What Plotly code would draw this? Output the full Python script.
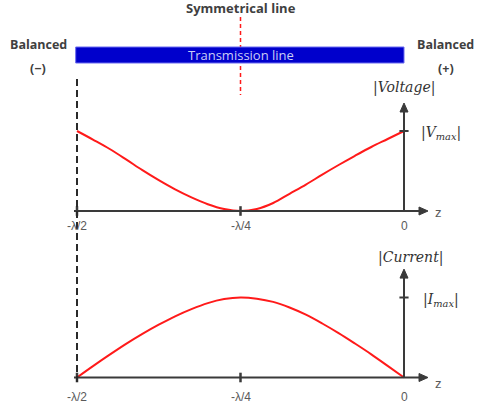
import plotly.graph_objects as go

# ---- data (z in units of wavelength, magnitudes normalised to max) ----
z_positions = [-0.5, -0.475, -0.45, -0.425, -0.4, -0.375, -0.35, -0.325, -0.3, -0.275,
               -0.25, -0.225, -0.2, -0.175, -0.15, -0.125, -0.1, -0.075, -0.05, -0.025, 0.0]
voltage_mag = [1.00, 0.89, 0.775, 0.645, 0.51, 0.385, 0.27, 0.17, 0.085, 0.025,
               0.00, 0.025, 0.10, 0.215, 0.33, 0.455, 0.575, 0.69, 0.80, 0.90, 1.00]
current_mag = [0.00, 0.145, 0.285, 0.42, 0.545, 0.66, 0.765, 0.855, 0.93, 0.98,
               1.00, 0.985, 0.945, 0.875, 0.785, 0.675, 0.555, 0.425, 0.29, 0.145, 0.00]
tick_positions = [-0.5, -0.25, 0.0]
tick_labels = ["-λ/2", "-λ/4", "0"]

W, H = 479, 410
AX = "#3a3a3a"
RED = "#ff1a1a"

# axis scaling so that -λ/2 -> px 77 and 0 -> px 404; 80 px per unit amplitude
ppl = 654.0
ppu = 80.0
x0 = -404 / ppl
x1 = x0 + W / ppl
span = H / ppu
DX = 1 / ppl   # one pixel in x data units
DY = 1 / ppu   # one pixel in y data units


def px(x):
    return x / W


def py(y):
    return 1 - y / H


def label(x, y, text, font, xref="paper"):
    return dict(x=x, y=y, xref=xref, yref="paper", text=text, showarrow=False, font=font,
                xanchor="center", yanchor="middle")


fig = go.Figure()
fig.add_trace(go.Scatter(x=z_positions, y=voltage_mag, mode="lines", line=dict(color=RED, width=2, shape="spline"),
                         xaxis="x", yaxis="y", hoverinfo="skip", showlegend=False))
fig.add_trace(go.Scatter(x=z_positions, y=current_mag, mode="lines", line=dict(color=RED, width=2, shape="spline"),
                         xaxis="x", yaxis="y2", hoverinfo="skip", showlegend=False))

shapes = []
annotations = []

# red symmetry line (drawn first so the bar covers it)
shapes.append(dict(type="line", xref="x", yref="paper", x0=-0.25, x1=-0.25, y0=py(17), y1=py(95),
                   line=dict(color=RED, width=1.5, dash="4px,3px")))
# transmission line bar
shapes.append(dict(type="rect", xref="x", yref="paper", x0=-0.502, x1=0.0, y0=py(63), y1=py(47),
                   fillcolor="#0000cc", line=dict(color="#6a6af0", width=1)))

# axes for both panels
for yref, top_val in (("y", 1.35), ("y2", 1.355)):
    tip_x = 428 * DX + x0
    # horizontal axis line and arrowhead
    shapes.append(dict(type="line", xref="x", yref=yref, x0=-0.5 - 3 * DX, x1=tip_x - 6 * DX, y0=0, y1=0,
                       line=dict(color=AX, width=2)))
    shapes.append(dict(type="path", xref="x", yref=yref,
                       path=f"M {tip_x},0 L {tip_x - 9 * DX},{4 * DY} L {tip_x - 9 * DX},{-4 * DY} Z",
                       fillcolor=AX, line=dict(color=AX, width=1)))
    # vertical axis line and arrowhead
    shapes.append(dict(type="line", xref="x", yref=yref, x0=0, x1=0, y0=0, y1=top_val - 6 * DY,
                       line=dict(color=AX, width=2)))
    shapes.append(dict(type="path", xref="x", yref=yref,
                       path=f"M 0,{top_val} L {-4 * DX},{top_val - 9 * DY} L {4 * DX},{top_val - 9 * DY} Z",
                       fillcolor=AX, line=dict(color=AX, width=1)))
    for tp in tick_positions[:2]:
        shapes.append(dict(type="line", xref="x", yref=yref, x0=tp, x1=tp, y0=-0.06, y1=0.06,
                           line=dict(color=AX, width=2.5)))
    shapes.append(dict(type="line", xref="x", yref=yref, x0=-0.007, x1=0.007, y0=1.0, y1=1.0,
                       line=dict(color=AX, width=2)))

# tick labels
tick_font = dict(family="Liberation Sans", size=12, color="#5a5a5a")
for row_y in (226, 397):
    for tp, tl in zip(tick_positions, tick_labels):
        annotations.append(label(tp, py(row_y), tl, tick_font, xref="x"))
    annotations.append(label(px(438), py(row_y - 14), "z", dict(family="Liberation Sans", size=13, color="#5a5a5a")))

# black dashed line at -λ/2
shapes.append(dict(type="line", xref="x", yref="paper", x0=-0.5, x1=-0.5, y0=py(79), y1=py(382),
                   line=dict(color="#2a2a2a", width=2, dash="7px,4px")))

annotations.append(label(-0.25, py(55), "Transmission line",
                         dict(family="Open Sans", size=13, color="#c9cdf5"), xref="x"))

# header texts
bold = dict(family="Open Sans", size=12.5, color="#404040")
annotations.append(label(-0.25, py(8), "<b>Symmetrical line</b>",
                         dict(family="Open Sans", size=13, color="#404040"), xref="x"))
annotations.append(label(px(38), py(45), "<b>Balanced</b>", bold))
annotations.append(label(px(38), py(68), "<b>(−)</b>", bold))
annotations.append(label(px(445), py(45), "<b>Balanced</b>", bold))
annotations.append(label(px(446), py(68), "<b>(+)</b>", bold))

# math labels
serif = dict(family="DejaVu Serif", size=14, color="#333333")
annotations.append(label(px(404), py(88), "<i>|Voltage|</i>", serif))
annotations.append(label(px(410), py(257), "<i>|Current|</i>", serif))
annotations.append(label(px(441), py(133), "<i>|V<sub>max</sub>|</i>", serif))
annotations.append(label(px(441), py(300), "<i>|I<sub>max</sub>|</i>", serif))

fig.update_layout(
    width=W, height=H, margin=dict(l=0, r=0, t=0, b=0),
    paper_bgcolor="white", plot_bgcolor="white",
    xaxis=dict(range=[x0, x1], domain=[0, 1], visible=False, fixedrange=True),
    yaxis=dict(range=[211 / ppu - span, 211 / ppu], domain=[0, 1], visible=False, fixedrange=True),
    yaxis2=dict(range=[377.5 / ppu - span, 377.5 / ppu], domain=[0, 1], visible=False, fixedrange=True,
                overlaying="y"),
    shapes=shapes, annotations=annotations, showlegend=False,
)

fig.write_html("out.html")
